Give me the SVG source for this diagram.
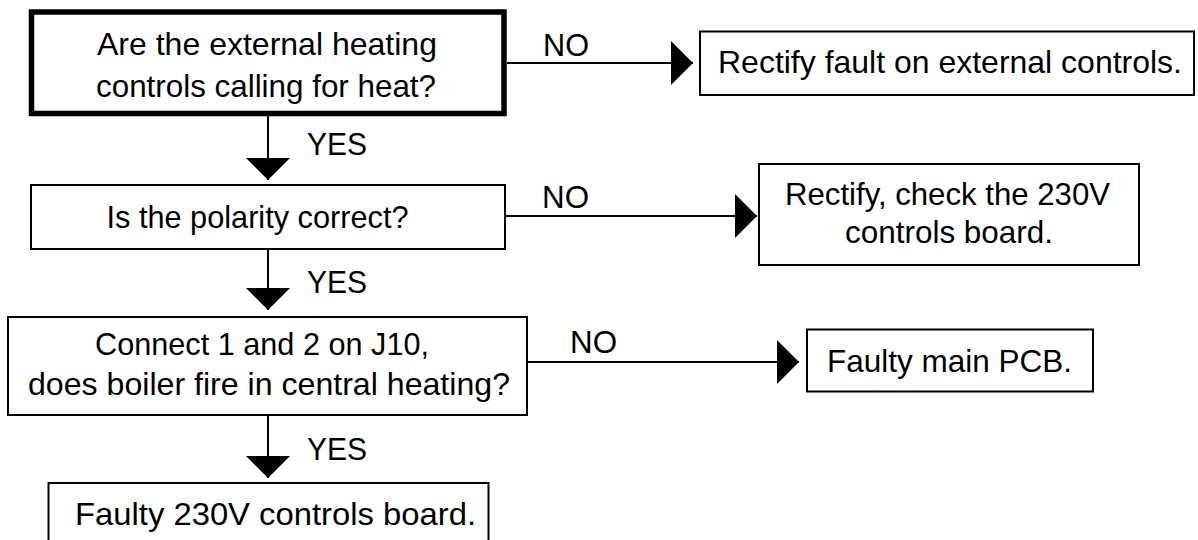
<svg xmlns="http://www.w3.org/2000/svg" width="1198" height="540" viewBox="0 0 1198 540">
<style>
.box{fill:#fff;stroke:#000;stroke-width:2}
.thick{fill:#fff;stroke:#000;stroke-width:5.5}
.t{font-family:"Liberation Sans",Arial,Helvetica,sans-serif;font-size:31.5px;fill:#000}
.m{text-anchor:middle}
.ln{stroke:#000;stroke-width:2;fill:none}
</style>
<defs>
<marker id="arr" viewBox="0 0 22 44" refX="22" refY="22" markerWidth="22" markerHeight="44" markerUnits="userSpaceOnUse" orient="auto">
<path d="M0,0 L22,22 L0,44 Z" fill="#000"/>
</marker>
</defs>
<g id="connectors">
<line class="ln" x1="507" y1="63" x2="693" y2="63" marker-end="url(#arr)"/>
<line class="ln" x1="505" y1="216" x2="757" y2="216" marker-end="url(#arr)"/>
<line class="ln" x1="527" y1="362" x2="799" y2="362" marker-end="url(#arr)"/>
<line class="ln" x1="268" y1="116" x2="268" y2="180" marker-end="url(#arr)"/>
<line class="ln" x1="268" y1="249" x2="268" y2="310" marker-end="url(#arr)"/>
<line class="ln" x1="268" y1="415" x2="268" y2="478" marker-end="url(#arr)"/>
<text class="t" x="543" y="56" textLength="46" lengthAdjust="spacingAndGlyphs">NO</text>
<text class="t" x="542" y="208" textLength="47" lengthAdjust="spacingAndGlyphs">NO</text>
<text class="t" x="570" y="353" textLength="47" lengthAdjust="spacingAndGlyphs">NO</text>
<text class="t" x="307" y="155" textLength="60" lengthAdjust="spacingAndGlyphs">YES</text>
<text class="t" x="307" y="293" textLength="60" lengthAdjust="spacingAndGlyphs">YES</text>
<text class="t" x="307" y="460" textLength="60" lengthAdjust="spacingAndGlyphs">YES</text>
</g>
<g id="q1">
<rect class="thick" x="31.5" y="12" width="472.5" height="101.5"/>
<text class="t m" x="267" y="55" textLength="340" lengthAdjust="spacingAndGlyphs">Are the external heating</text>
<text class="t m" x="266" y="97" textLength="340" lengthAdjust="spacingAndGlyphs">controls calling for heat?</text>
</g>
<g id="r1">
<rect class="box" x="700" y="31.5" width="494" height="63.5"/>
<text class="t m" x="950" y="73" textLength="464" lengthAdjust="spacingAndGlyphs">Rectify fault on external controls.</text>
</g>
<g id="q2">
<rect class="box" x="31" y="185" width="474" height="64"/>
<text class="t m" x="257.5" y="228" textLength="302" lengthAdjust="spacingAndGlyphs">Is the polarity correct?</text>
</g>
<g id="r2">
<rect class="box" x="759" y="164" width="380" height="101"/>
<text class="t m" x="947.5" y="205" textLength="325" lengthAdjust="spacingAndGlyphs">Rectify, check the 230V</text>
<text class="t m" x="949" y="243" textLength="208" lengthAdjust="spacingAndGlyphs">controls board.</text>
</g>
<g id="q3">
<rect class="box" x="8" y="317" width="519" height="98"/>
<text class="t m" x="262" y="355" textLength="334" lengthAdjust="spacingAndGlyphs">Connect 1 and 2 on J10,</text>
<text class="t m" x="269" y="395" textLength="482" lengthAdjust="spacingAndGlyphs">does boiler fire in central heating?</text>
</g>
<g id="r3">
<rect class="box" x="807" y="329.5" width="286" height="62"/>
<text class="t m" x="949.5" y="372" textLength="245" lengthAdjust="spacingAndGlyphs">Faulty main PCB.</text>
</g>
<g id="r4">
<rect class="box" x="48.5" y="483" width="440" height="80"/>
<text class="t m" x="275.5" y="525" textLength="401" lengthAdjust="spacingAndGlyphs">Faulty 230V controls board.</text>
</g>
</svg>
